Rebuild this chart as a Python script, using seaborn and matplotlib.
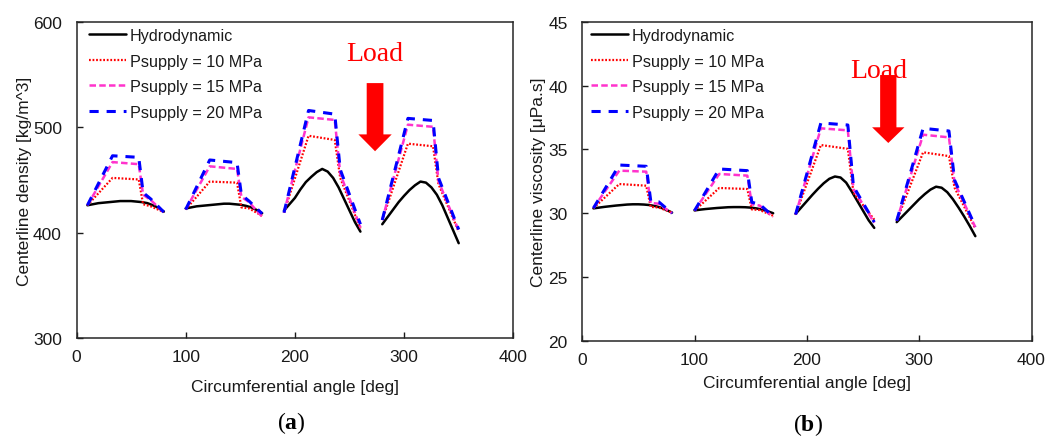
import numpy as np
import pandas as pd
import matplotlib
matplotlib.use("Agg")
import matplotlib.pyplot as plt
import seaborn as sns
from matplotlib import font_manager as fm

# ---------------- data ----------------
series_labels = ["Hydrodynamic", "Psupply = 10 MPa", "Psupply = 15 MPa", "Psupply = 20 MPa"]
pad_names = ["pad1", "pad2", "pad3", "pad4"]

hydro_angle_pad1 = [10, 15, 20, 25, 30, 35, 40, 45, 50, 55, 60, 65, 70, 75, 80]
hydro_angle_pad2 = [100, 105, 110, 115, 120, 125, 130, 135, 140, 145, 150, 155, 160, 165, 170]
hydro_angle_pad3 = [190, 195, 200, 205, 210, 215, 220, 225, 230, 235, 240, 245, 250, 255, 260]
hydro_angle_pad4 = [280, 285, 290, 295, 300, 305, 310, 315, 320, 325, 330, 335, 340, 345, 350]

press_angle_pad1 = [10, 33, 57, 61, 68, 80]
press_angle_pad2 = [100, 122, 147, 151, 158, 170]
press_angle_pad3 = [190, 212.5, 236.5, 241.5, 260]
press_angle_pad4 = [280, 303.5, 326.5, 331.5, 350]

# (a) centerline density [kg/m^3]
dens_hydro_pad1 = [426, 427, 428, 428.5, 429, 429.5, 430, 430, 430, 429.5, 429, 428, 426, 423.5, 420]
dens_hydro_pad2 = [423, 424, 425, 425.5, 426, 426.5, 427, 427.5, 427.5, 427, 426.5, 425.5, 424, 421.5, 418.5]
dens_hydro_pad3 = [421, 427, 433, 441, 448, 453, 457.5, 460.5, 458, 452, 443, 432, 421, 410, 401]
dens_hydro_pad4 = [408, 415, 422, 429, 435, 440.5, 445, 448.5, 447.5, 443, 436, 426, 414, 402, 390]

dens_10_pad1 = [426, 452, 450.5, 427, 425, 419.5]
dens_15_pad1 = [426, 467, 465, 436, 431, 419]
dens_20_pad1 = [426, 473, 471.5, 438, 432, 419.5]
dens_10_pad2 = [422, 448.5, 447.5, 424, 423, 416]
dens_15_pad2 = [422, 463, 460.5, 434, 429, 415]
dens_20_pad2 = [422, 469, 466.5, 436, 430, 418]
dens_10_pad3 = [419, 492, 488, 452, 404]
dens_15_pad3 = [419, 509.5, 507, 456, 405]
dens_20_pad3 = [419, 516, 512.5, 460, 408]
dens_10_pad4 = [412, 484.5, 482, 446, 401]
dens_15_pad4 = [412, 502.5, 500.5, 449, 402]
dens_20_pad4 = [412, 508.5, 506.5, 452, 403]

# (b) centerline viscosity [uPa.s]
visc_hydro_pad1 = [30.38, 30.44, 30.5, 30.55, 30.6, 30.64, 30.68, 30.7, 30.7, 30.68, 30.64, 30.56, 30.44, 30.26, 30.05]
visc_hydro_pad2 = [30.22, 30.28, 30.33, 30.37, 30.41, 30.44, 30.47, 30.48, 30.48, 30.47, 30.44, 30.38, 30.29, 30.16, 30.0]
visc_hydro_pad3 = [29.95, 30.45, 30.95, 31.45, 31.92, 32.35, 32.7, 32.88, 32.8, 32.4, 31.7, 30.95, 30.2, 29.45, 28.85]
visc_hydro_pad4 = [29.3, 29.75, 30.2, 30.65, 31.1, 31.5, 31.85, 32.08, 32.0, 31.65, 31.1, 30.45, 29.75, 29.0, 28.2]

visc_10_pad1 = [30.4, 32.29, 32.16, 30.5, 30.45, 30.05]
visc_15_pad1 = [30.4, 33.34, 33.26, 30.8, 30.75, 30.0]
visc_20_pad1 = [30.4, 33.78, 33.68, 30.98, 30.9, 30.0]
visc_10_pad2 = [30.2, 31.98, 31.9, 30.3, 30.25, 29.8]
visc_15_pad2 = [30.2, 33.08, 32.95, 30.7, 30.6, 29.7]
visc_20_pad2 = [30.2, 33.47, 33.34, 30.86, 30.7, 29.75]
visc_10_pad3 = [29.9, 35.35, 35.05, 31.6, 29.5]
visc_15_pad3 = [29.9, 36.66, 36.5, 31.9, 29.25]
visc_20_pad3 = [29.9, 37.08, 36.92, 32.1, 29.3]
visc_10_pad4 = [29.4, 34.78, 34.48, 32.0, 28.8]
visc_15_pad4 = [29.4, 36.16, 35.95, 32.4, 28.9]
visc_20_pad4 = [29.4, 36.66, 36.45, 32.6, 28.95]

x_ticks = [0, 100, 200, 300, 400]
dens_ticks = [300, 400, 500, 600]
visc_ticks = [20, 25, 30, 35, 40, 45]

# ---------------- tidy tables ----------------
hydro_angles = [hydro_angle_pad1, hydro_angle_pad2, hydro_angle_pad3, hydro_angle_pad4]
press_angles = [press_angle_pad1, press_angle_pad2, press_angle_pad3, press_angle_pad4]
dens_vals = {
    series_labels[0]: [dens_hydro_pad1, dens_hydro_pad2, dens_hydro_pad3, dens_hydro_pad4],
    series_labels[1]: [dens_10_pad1, dens_10_pad2, dens_10_pad3, dens_10_pad4],
    series_labels[2]: [dens_15_pad1, dens_15_pad2, dens_15_pad3, dens_15_pad4],
    series_labels[3]: [dens_20_pad1, dens_20_pad2, dens_20_pad3, dens_20_pad4],
}
visc_vals = {
    series_labels[0]: [visc_hydro_pad1, visc_hydro_pad2, visc_hydro_pad3, visc_hydro_pad4],
    series_labels[1]: [visc_10_pad1, visc_10_pad2, visc_10_pad3, visc_10_pad4],
    series_labels[2]: [visc_15_pad1, visc_15_pad2, visc_15_pad3, visc_15_pad4],
    series_labels[3]: [visc_20_pad1, visc_20_pad2, visc_20_pad3, visc_20_pad4],
}


def build(vals):
    rows = []
    for s in series_labels:
        angs = hydro_angles if s == series_labels[0] else press_angles
        for p, a, v in zip(pad_names, angs, vals[s]):
            for ai, vi in zip(a, v):
                rows.append((s, p, ai, vi))
    return pd.DataFrame(rows, columns=["series", "pad", "angle", "value"])


df_dens = build(dens_vals)
df_visc = build(visc_vals)

# ---------------- style ----------------
sns.set_theme(style="white")
names = {f.name for f in fm.fontManager.ttflist}
if "Liberation Sans Narrow" in names:
    sans = "Liberation Sans Narrow"
    tick_fs, lab_fs, leg_fs = 14, 14, 12.9
else:
    sans = "Liberation Sans"
    tick_fs, lab_fs, leg_fs = 12.5, 12.5, 11.6
plt.rcParams["font.family"] = [sans, "DejaVu Sans"]
plt.rcParams["mathtext.fontset"] = "custom"
plt.rcParams["mathtext.rm"] = "Liberation Serif"
plt.rcParams["mathtext.bf"] = "Liberation Serif:bold"

styles = {
    series_labels[0]: dict(color="#000000", lw=1.8, ls="-"),
    series_labels[1]: dict(color="#FF0000", lw=1.6, ls=(0, (0.8, 0.8))),
    series_labels[2]: dict(color="#FF33CC", lw=1.8, ls=(0, (2.6, 1.3))),
    series_labels[3]: dict(color="#0000FF", lw=2.2, ls=(0, (3.0, 2.6))),
}

W, H = 1061, 439
fig = plt.figure(figsize=(W / 100, H / 100), dpi=100)
fig.patch.set_facecolor("white")

# axes pixel boxes: left, right, top, bottom
boxes = [(76.5, 513.3, 23, 339), (582.2, 1031.5, 23, 341.7)]
axes = []
for (l, r, t, b) in boxes:
    axes.append(fig.add_axes([l / W, 1 - b / H, (r - l) / W, (b - t) / H]))

text_col = "#1a1a1a"
panels = [
    (axes[0], df_dens, (300, 600), dens_ticks, "Centerline density [kg/m^3]"),
    (axes[1], df_visc, (20, 45), visc_ticks, "Centerline viscosity [\u03bcPa.s]"),
]

leg_px = leg_fs * 100 / 72
for k, (ax, df, ylim, yt, ylab) in enumerate(panels):
    for s in series_labels:
        st = styles[s]
        for p in pad_names:
            sub = df[(df["series"] == s) & (df["pad"] == p)]
            sns.lineplot(data=sub, x="angle", y="value", ax=ax, color=st["color"],
                         linewidth=st["lw"], linestyle=st["ls"], estimator=None,
                         sort=False, legend=False)
    ax.set_xlim(0, 400)
    ax.set_ylim(*ylim)
    ax.set_xticks(x_ticks)
    ax.set_yticks(yt)
    ax.tick_params(axis="both", direction="in", length=4, width=1.0, colors=text_col,
                   labelsize=tick_fs, top=False, right=False, left=True, bottom=True)
    ax.tick_params(axis="y", pad=10.5)
    ax.tick_params(axis="x", pad=8)
    for sp in ax.spines.values():
        sp.set_visible(True)
        sp.set_color("#262626")
        sp.set_linewidth(1.1)
    ax.set_facecolor("white")
    ax.grid(False)

    ax.set_xlabel("Circumferential angle [deg]", fontsize=lab_fs, color=text_col)
    ax.set_ylabel(ylab, fontsize=lab_fs, color=text_col)

    lines = ax.get_lines()
    handles = [lines[i * len(pad_names)] for i in range(len(series_labels))]
    l, r, t, b = boxes[k]
    hx = (12 if k == 0 else 8.4) / (r - l)
    ax.legend(handles, series_labels, loc="upper left",
              bbox_to_anchor=(hx, 1 - 6.0 / (b - t)), frameon=False, fontsize=leg_fs,
              handlelength=37 / leg_px, handletextpad=4.0 / leg_px,
              labelspacing=max(0.05, (26.0 - 0.96 * leg_px) / leg_px),
              borderaxespad=0, borderpad=0, labelcolor=text_col)

# label placement
axes[0].xaxis.set_label_coords(0.5, (339 - 391.7) / 316)
axes[1].xaxis.set_label_coords(0.5, (341.7 - 388.3) / 318.7)
for ax in axes:
    ax.xaxis.label.set_verticalalignment("baseline")
axes[0].yaxis.set_label_coords((25 - 76.5) / 436.8, 0.5)
axes[1].yaxis.set_label_coords((538.5 - 582.2) / 449.3, 0.5)
for ax in axes:
    ax.yaxis.label.set_verticalalignment("center")

# Load arrows and labels
ax = axes[0]
ax.arrow(273.4, 542, 0, 477.3 - 542, width=15.3, head_width=30.5, head_length=16,
         length_includes_head=True, color="#FF0000", lw=0, zorder=3)
ax.text(273.3, 564, "Load", color="#FF0000", fontsize=20, family="Liberation Serif",
        ha="center", va="baseline", zorder=4)
ax = axes[1]
ax.arrow(272.5, 40.84, 0, 35.51 - 40.84, width=14.5, head_width=28.8, head_length=1.23,
         length_includes_head=True, color="#FF0000", lw=0, zorder=3)
ax.text(263.9, 40.69, "Load", color="#FF0000", fontsize=20, family="Liberation Serif",
        ha="center", va="baseline", zorder=4)

fig.text(291 / W, 1 - 429 / H, r"($\mathbf{a}$)", fontsize=17, family="Liberation Serif",
         ha="center", va="baseline", color="#000000")
fig.text(808.4 / W, 1 - 431.5 / H, r"($\mathbf{b}$)", fontsize=17, family="Liberation Serif",
         ha="center", va="baseline", color="#000000")

fig.savefig("out.png", dpi=100, facecolor="white")
